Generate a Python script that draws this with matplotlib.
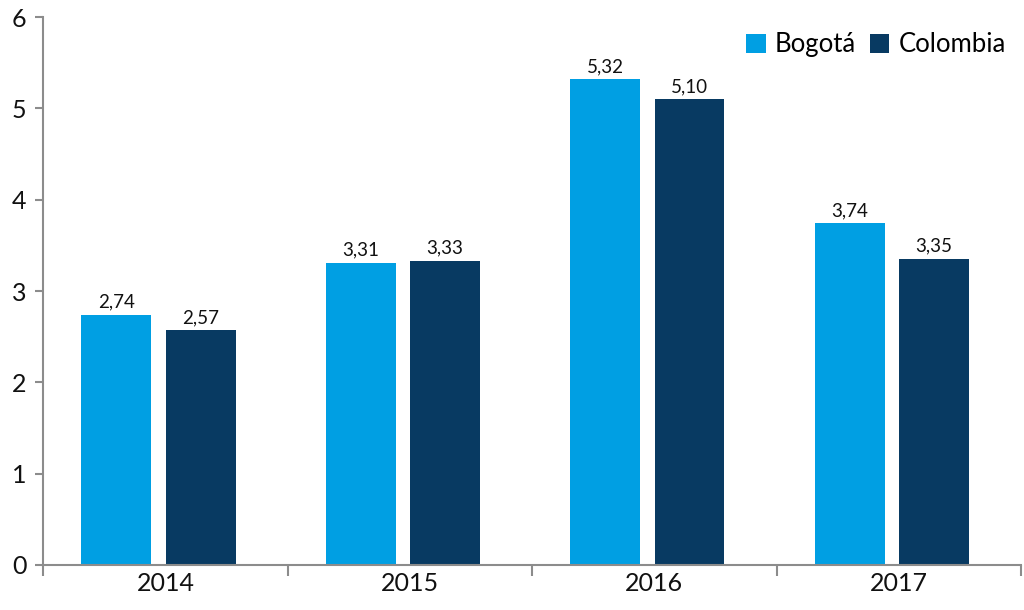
import matplotlib
matplotlib.use("Agg")
import matplotlib.pyplot as plt
import numpy as np

years = ["2014", "2015", "2016", "2017"]
bogota = [2.74, 3.31, 5.32, 3.74]
colombia = [2.57, 3.33, 5.10, 3.35]
series_names = ["Bogotá", "Colombia"]
y_ticks = [0, 1, 2, 3, 4, 5, 6]

plt.rcParams['font.family'] = ['Lato', 'DejaVu Sans']

c_bog = "#009FE3"
c_col = "#083A62"
axis_color = "#8C8C8C"

fig = plt.figure(figsize=(10.24, 6.1), dpi=100)
ax = fig.add_axes([0.0423, 0.0738, 0.9547, 0.8983])

x = np.arange(len(years))
w = 0.286
b1 = ax.bar(x - 0.201, bogota, width=w, color=c_bog, label=series_names[0])
b2 = ax.bar(x + 0.144, colombia, width=w, color=c_col, label=series_names[1])

def fmt(v):
    return f"{v:.2f}".replace(".", ",")

for bars, vals in ((b1, bogota), (b2, colombia)):
    for r, v in zip(bars, vals):
        ax.annotate(fmt(v), (r.get_x() + r.get_width() / 2, v), xytext=(0, 3),
                    textcoords="offset points", ha="center", va="bottom",
                    fontsize=13.5, color="#111111")

ax.set_xlim(-0.5, 3.5)
ax.set_ylim(0, 6)
ax.set_yticks(y_ticks)
ax.set_yticklabels([str(t) for t in y_ticks])
ax.set_xticks(x)
ax.set_xticklabels(years)
ax.set_xticks(np.arange(-0.5, 3.6, 1), minor=True)

for s in ["top", "right"]:
    ax.spines[s].set_visible(False)
for s in ["left", "bottom"]:
    ax.spines[s].set_color(axis_color)
    ax.spines[s].set_linewidth(1.5)

ax.tick_params(axis="y", direction="out", length=6, width=1.5, color=axis_color,
               labelsize=18, pad=6, labelcolor="#111111")
ax.tick_params(axis="x", which="major", length=0, labelsize=18, pad=5, labelcolor="#111111")
ax.tick_params(axis="x", which="minor", direction="out", length=8, width=1.5, color=axis_color)

leg = ax.legend(loc="upper right", bbox_to_anchor=(1.0, 1.0), ncol=2, frameon=False,
                fontsize=18.5, handlelength=0.75, handleheight=0.75, handletextpad=0.35,
                columnspacing=0.55, borderaxespad=0.2)

fig.savefig("out.png", dpi=100)
